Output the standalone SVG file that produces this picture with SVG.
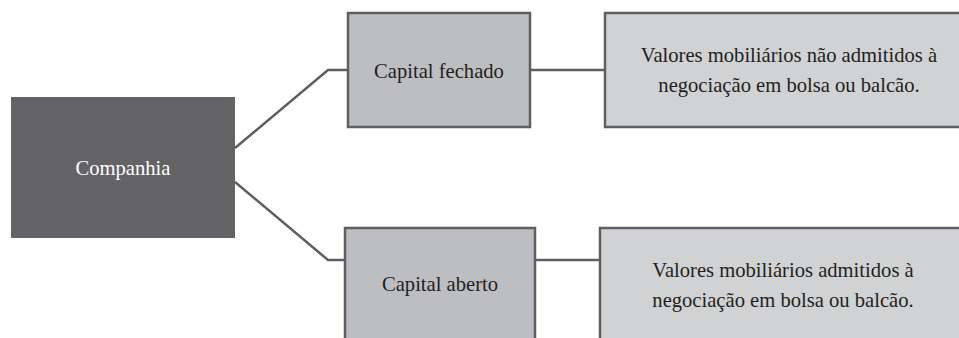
<svg xmlns="http://www.w3.org/2000/svg" width="959" height="338" viewBox="0 0 959 338">
<style>
.t{font-family:'Liberation Serif',serif;font-size:20.6px;text-anchor:middle;fill:#231f20}
.w{fill:#ffffff}
.mid{fill:#bdbec1;stroke:#5f5f61;stroke-width:2.5}
.leaf{fill:#d1d2d4;stroke:#5f5f61;stroke-width:2.5}
.c{fill:none;stroke:#5f5f61;stroke-width:2.5}
</style>
<rect width="959" height="338" fill="#ffffff"/>
<g id="connectors">
<polyline class="c" points="235,148 328,70 348,70"/>
<polyline class="c" points="235,182 328,260 345,260"/>
<line class="c" x1="530" y1="70" x2="605" y2="70"/>
<line class="c" x1="535" y1="260" x2="600" y2="260"/>
</g>
<g id="companhia">
<rect x="11" y="97" width="224" height="141" fill="#636365"/>
<text class="t w" x="123" y="175">Companhia</text>
</g>
<g id="capital-fechado">
<rect class="mid" x="348" y="13" width="182" height="114"/>
<text class="t" x="439" y="78">Capital fechado</text>
</g>
<g id="fechado-desc">
<rect class="leaf" x="605" y="13" width="360" height="114"/>
<text class="t" x="789" y="62">Valores mobiliários não admitidos à</text>
<text class="t" x="789" y="92">negociação em bolsa ou balcão.</text>
</g>
<g id="capital-aberto">
<rect class="mid" x="345" y="228" width="190" height="120"/>
<text class="t" x="440" y="291">Capital aberto</text>
</g>
<g id="aberto-desc">
<rect class="leaf" x="600" y="228" width="365" height="120"/>
<text class="t" x="783" y="277">Valores mobiliários admitidos à</text>
<text class="t" x="783" y="307">negociação em bolsa ou balcão.</text>
</g>
</svg>
